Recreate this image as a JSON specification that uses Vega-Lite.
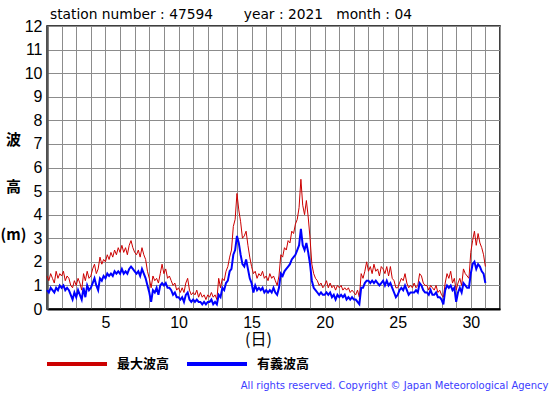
{
  "$schema": "https://vega.github.io/schema/vega-lite/v6.json",
  "width": 453,
  "height": 283,
  "autosize": "none",
  "padding": {"left": 47, "top": 26, "right": 55, "bottom": 86},
  "background": "white",
  "title": {
    "text": "station number : 47594\u00a0\u00a0\u00a0\u00a0\u00a0\u00a0\u00a0year : 2021\u00a0\u00a0\u00a0month : 04",
    "anchor": "start",
    "frame": "group",
    "dx": 3,
    "dy": 21,
    "offset": 6,
    "baseline": "alphabetic",
    "font": "DejaVu Sans",
    "fontSize": 13.8,
    "fontWeight": "normal",
    "color": "#000"
  },
  "data": {
    "values": [
      {"d": 1.0, "h": 1.4, "s": 0.8}, {"d": 1.125, "h": 1.2, "s": 0.7}, {"d": 1.25, "h": 1.5, "s": 0.9}, {"d": 1.375, "h": 1.3, "s": 0.8},
      {"d": 1.5, "h": 1.1, "s": 0.7}, {"d": 1.625, "h": 1.6, "s": 0.9}, {"d": 1.75, "h": 1.3, "s": 0.8}, {"d": 1.875, "h": 1.5, "s": 1.0},
      {"d": 2.0, "h": 1.4, "s": 0.9}, {"d": 2.125, "h": 1.6, "s": 1.0}, {"d": 2.25, "h": 1.2, "s": 0.8}, {"d": 2.375, "h": 1.4, "s": 0.9},
      {"d": 2.5, "h": 1.3, "s": 0.8}, {"d": 2.625, "h": 1.0, "s": 0.6}, {"d": 2.75, "h": 0.9, "s": 0.4}, {"d": 2.875, "h": 1.2, "s": 0.7},
      {"d": 3.0, "h": 1.0, "s": 0.5}, {"d": 3.125, "h": 1.3, "s": 0.8}, {"d": 3.25, "h": 1.1, "s": 0.6}, {"d": 3.375, "h": 0.8, "s": 0.4},
      {"d": 3.5, "h": 1.5, "s": 0.9}, {"d": 3.625, "h": 1.2, "s": 0.5}, {"d": 3.75, "h": 1.6, "s": 1.0}, {"d": 3.875, "h": 1.3, "s": 0.8},
      {"d": 4.0, "h": 1.4, "s": 0.9}, {"d": 4.125, "h": 1.7, "s": 1.1}, {"d": 4.25, "h": 1.9, "s": 1.3}, {"d": 4.375, "h": 1.5, "s": 1.0},
      {"d": 4.5, "h": 1.7, "s": 0.8}, {"d": 4.625, "h": 2.2, "s": 1.3}, {"d": 4.75, "h": 1.9, "s": 1.2}, {"d": 4.875, "h": 2.1, "s": 1.4},
      {"d": 5.0, "h": 2.0, "s": 1.3}, {"d": 5.125, "h": 2.3, "s": 1.5}, {"d": 5.25, "h": 2.1, "s": 1.4}, {"d": 5.375, "h": 2.4, "s": 1.5},
      {"d": 5.5, "h": 2.2, "s": 1.4}, {"d": 5.625, "h": 2.5, "s": 1.6}, {"d": 5.75, "h": 2.3, "s": 1.5}, {"d": 5.875, "h": 2.6, "s": 1.6},
      {"d": 6.0, "h": 2.4, "s": 1.5}, {"d": 6.125, "h": 2.7, "s": 1.7}, {"d": 6.25, "h": 2.4, "s": 1.5}, {"d": 6.375, "h": 2.6, "s": 1.6},
      {"d": 6.5, "h": 2.3, "s": 1.5}, {"d": 6.625, "h": 2.7, "s": 1.7}, {"d": 6.75, "h": 2.9, "s": 1.8}, {"d": 6.875, "h": 2.6, "s": 1.7},
      {"d": 7.0, "h": 2.4, "s": 1.6}, {"d": 7.125, "h": 2.3, "s": 1.5}, {"d": 7.25, "h": 2.5, "s": 1.6}, {"d": 7.375, "h": 2.2, "s": 1.4},
      {"d": 7.5, "h": 2.6, "s": 1.7}, {"d": 7.625, "h": 2.3, "s": 1.5}, {"d": 7.75, "h": 2.1, "s": 1.3}, {"d": 7.875, "h": 1.6, "s": 1.0},
      {"d": 8.0, "h": 1.3, "s": 0.7}, {"d": 8.125, "h": 0.9, "s": 0.3}, {"d": 8.25, "h": 1.4, "s": 0.8}, {"d": 8.375, "h": 1.2, "s": 0.7},
      {"d": 8.5, "h": 1.3, "s": 0.9}, {"d": 8.625, "h": 1.1, "s": 0.6}, {"d": 8.75, "h": 1.5, "s": 1.0}, {"d": 8.875, "h": 1.9, "s": 1.1},
      {"d": 9.0, "h": 1.5, "s": 1.0}, {"d": 9.125, "h": 1.7, "s": 1.1}, {"d": 9.25, "h": 1.3, "s": 0.9}, {"d": 9.375, "h": 1.4, "s": 0.9},
      {"d": 9.5, "h": 1.2, "s": 0.8}, {"d": 9.625, "h": 1.0, "s": 0.6}, {"d": 9.75, "h": 1.1, "s": 0.7}, {"d": 9.875, "h": 0.8, "s": 0.5},
      {"d": 10.0, "h": 0.9, "s": 0.5}, {"d": 10.125, "h": 0.7, "s": 0.4}, {"d": 10.25, "h": 0.9, "s": 0.5}, {"d": 10.375, "h": 0.7, "s": 0.3},
      {"d": 10.5, "h": 1.1, "s": 0.6}, {"d": 10.625, "h": 1.3, "s": 0.7}, {"d": 10.75, "h": 0.8, "s": 0.4}, {"d": 10.875, "h": 0.6, "s": 0.3},
      {"d": 11.0, "h": 0.7, "s": 0.4}, {"d": 11.125, "h": 0.6, "s": 0.3}, {"d": 11.25, "h": 0.8, "s": 0.4}, {"d": 11.375, "h": 0.5, "s": 0.3},
      {"d": 11.5, "h": 0.7, "s": 0.3}, {"d": 11.625, "h": 0.5, "s": 0.2}, {"d": 11.75, "h": 0.6, "s": 0.3}, {"d": 11.875, "h": 0.4, "s": 0.2},
      {"d": 12.0, "h": 0.6, "s": 0.3}, {"d": 12.125, "h": 0.5, "s": 0.3}, {"d": 12.25, "h": 0.7, "s": 0.4}, {"d": 12.375, "h": 0.5, "s": 0.2},
      {"d": 12.5, "h": 0.6, "s": 0.3}, {"d": 12.625, "h": 0.4, "s": 0.2}, {"d": 12.75, "h": 1.3, "s": 0.6}, {"d": 12.875, "h": 0.9, "s": 0.5},
      {"d": 13.0, "h": 1.3, "s": 0.9}, {"d": 13.125, "h": 1.2, "s": 0.8}, {"d": 13.25, "h": 1.6, "s": 1.1}, {"d": 13.375, "h": 1.8, "s": 1.2},
      {"d": 13.5, "h": 2.2, "s": 1.6}, {"d": 13.625, "h": 2.5, "s": 1.7}, {"d": 13.75, "h": 3.5, "s": 2.3}, {"d": 13.875, "h": 3.8, "s": 2.5},
      {"d": 14.0, "h": 4.9, "s": 3.1}, {"d": 14.125, "h": 4.2, "s": 2.8}, {"d": 14.25, "h": 3.7, "s": 2.3}, {"d": 14.375, "h": 3.0, "s": 1.9},
      {"d": 14.5, "h": 3.1, "s": 1.8}, {"d": 14.625, "h": 3.3, "s": 2.1}, {"d": 14.75, "h": 2.7, "s": 1.7}, {"d": 14.875, "h": 2.2, "s": 1.3},
      {"d": 15.0, "h": 1.8, "s": 1.1}, {"d": 15.125, "h": 1.5, "s": 0.7}, {"d": 15.25, "h": 1.6, "s": 1.0}, {"d": 15.375, "h": 1.3, "s": 0.8},
      {"d": 15.5, "h": 1.5, "s": 0.9}, {"d": 15.625, "h": 1.4, "s": 0.8}, {"d": 15.75, "h": 1.6, "s": 0.9}, {"d": 15.875, "h": 1.3, "s": 0.7},
      {"d": 16.0, "h": 1.4, "s": 0.8}, {"d": 16.125, "h": 1.2, "s": 0.7}, {"d": 16.25, "h": 1.5, "s": 0.8}, {"d": 16.375, "h": 1.3, "s": 0.7},
      {"d": 16.5, "h": 1.4, "s": 0.9}, {"d": 16.625, "h": 1.2, "s": 0.7}, {"d": 16.75, "h": 1.0, "s": 0.6}, {"d": 16.875, "h": 1.4, "s": 0.9},
      {"d": 17.0, "h": 2.3, "s": 1.5}, {"d": 17.125, "h": 2.2, "s": 1.4}, {"d": 17.25, "h": 2.6, "s": 1.6}, {"d": 17.375, "h": 2.5, "s": 1.7},
      {"d": 17.5, "h": 2.9, "s": 1.8}, {"d": 17.625, "h": 2.8, "s": 1.9}, {"d": 17.75, "h": 3.3, "s": 2.1}, {"d": 17.875, "h": 3.2, "s": 2.2},
      {"d": 18.0, "h": 3.6, "s": 2.3}, {"d": 18.125, "h": 3.8, "s": 2.5}, {"d": 18.25, "h": 4.3, "s": 2.7}, {"d": 18.375, "h": 5.5, "s": 3.4},
      {"d": 18.5, "h": 4.4, "s": 2.7}, {"d": 18.625, "h": 4.0, "s": 2.5}, {"d": 18.75, "h": 4.6, "s": 2.8}, {"d": 18.875, "h": 3.9, "s": 2.4},
      {"d": 19.0, "h": 3.0, "s": 1.9}, {"d": 19.125, "h": 1.9, "s": 1.2}, {"d": 19.25, "h": 1.5, "s": 0.9}, {"d": 19.375, "h": 1.3, "s": 0.8},
      {"d": 19.5, "h": 1.2, "s": 0.7}, {"d": 19.625, "h": 1.0, "s": 0.6}, {"d": 19.75, "h": 1.1, "s": 0.7}, {"d": 19.875, "h": 0.9, "s": 0.6},
      {"d": 20.0, "h": 1.0, "s": 0.6}, {"d": 20.125, "h": 1.2, "s": 0.7}, {"d": 20.25, "h": 0.9, "s": 0.6}, {"d": 20.375, "h": 1.1, "s": 0.7},
      {"d": 20.5, "h": 0.9, "s": 0.5}, {"d": 20.625, "h": 1.0, "s": 0.6}, {"d": 20.75, "h": 0.8, "s": 0.4}, {"d": 20.875, "h": 1.0, "s": 0.6},
      {"d": 21.0, "h": 0.9, "s": 0.5}, {"d": 21.125, "h": 1.0, "s": 0.6}, {"d": 21.25, "h": 0.8, "s": 0.5}, {"d": 21.375, "h": 0.9, "s": 0.6},
      {"d": 21.5, "h": 0.8, "s": 0.4}, {"d": 21.625, "h": 0.9, "s": 0.5}, {"d": 21.75, "h": 0.7, "s": 0.4}, {"d": 21.875, "h": 0.8, "s": 0.5},
      {"d": 22.0, "h": 0.7, "s": 0.4}, {"d": 22.125, "h": 0.6, "s": 0.4}, {"d": 22.25, "h": 0.8, "s": 0.3}, {"d": 22.375, "h": 0.5, "s": 0.2},
      {"d": 22.5, "h": 1.5, "s": 0.9}, {"d": 22.625, "h": 1.3, "s": 0.9}, {"d": 22.75, "h": 1.6, "s": 1.1}, {"d": 22.875, "h": 2.0, "s": 1.2},
      {"d": 23.0, "h": 1.6, "s": 1.2}, {"d": 23.125, "h": 1.8, "s": 1.1}, {"d": 23.25, "h": 1.5, "s": 1.2}, {"d": 23.375, "h": 1.9, "s": 1.1},
      {"d": 23.5, "h": 1.6, "s": 1.2}, {"d": 23.625, "h": 1.7, "s": 1.1}, {"d": 23.75, "h": 1.4, "s": 1.0}, {"d": 23.875, "h": 1.8, "s": 1.1},
      {"d": 24.0, "h": 1.7, "s": 1.2}, {"d": 24.125, "h": 1.5, "s": 1.0}, {"d": 24.25, "h": 1.8, "s": 1.2}, {"d": 24.375, "h": 1.4, "s": 1.0},
      {"d": 24.5, "h": 1.8, "s": 1.1}, {"d": 24.625, "h": 1.3, "s": 0.9}, {"d": 24.75, "h": 1.2, "s": 0.7}, {"d": 24.875, "h": 0.9, "s": 0.5},
      {"d": 25.0, "h": 0.9, "s": 0.6}, {"d": 25.125, "h": 1.1, "s": 0.8}, {"d": 25.25, "h": 1.3, "s": 0.9}, {"d": 25.375, "h": 1.2, "s": 0.8},
      {"d": 25.5, "h": 1.5, "s": 1.0}, {"d": 25.625, "h": 1.1, "s": 0.8}, {"d": 25.75, "h": 0.9, "s": 0.6}, {"d": 25.875, "h": 1.0, "s": 0.7},
      {"d": 26.0, "h": 0.9, "s": 0.7}, {"d": 26.125, "h": 1.1, "s": 0.7}, {"d": 26.25, "h": 0.9, "s": 0.8}, {"d": 26.375, "h": 1.0, "s": 0.7},
      {"d": 26.5, "h": 1.5, "s": 1.1}, {"d": 26.625, "h": 1.4, "s": 1.0}, {"d": 26.75, "h": 1.1, "s": 0.8}, {"d": 26.875, "h": 1.0, "s": 0.7},
      {"d": 27.0, "h": 1.0, "s": 0.7}, {"d": 27.125, "h": 0.8, "s": 0.6}, {"d": 27.25, "h": 1.0, "s": 0.8}, {"d": 27.375, "h": 0.9, "s": 0.6},
      {"d": 27.5, "h": 0.8, "s": 0.6}, {"d": 27.625, "h": 1.0, "s": 0.7}, {"d": 27.75, "h": 0.7, "s": 0.5}, {"d": 27.875, "h": 0.8, "s": 0.5},
      {"d": 28.0, "h": 0.6, "s": 0.4}, {"d": 28.125, "h": 0.5, "s": 0.2}, {"d": 28.25, "h": 1.1, "s": 0.8}, {"d": 28.375, "h": 1.5, "s": 1.0},
      {"d": 28.5, "h": 1.3, "s": 0.9}, {"d": 28.625, "h": 1.6, "s": 1.0}, {"d": 28.75, "h": 1.1, "s": 0.8}, {"d": 28.875, "h": 1.3, "s": 0.9},
      {"d": 29.0, "h": 0.8, "s": 0.3}, {"d": 29.125, "h": 1.1, "s": 0.7}, {"d": 29.25, "h": 1.3, "s": 0.9}, {"d": 29.375, "h": 1.0, "s": 0.7},
      {"d": 29.5, "h": 1.7, "s": 1.1}, {"d": 29.625, "h": 1.5, "s": 1.0}, {"d": 29.75, "h": 1.4, "s": 0.9}, {"d": 29.875, "h": 1.3, "s": 0.9},
      {"d": 30.0, "h": 2.4, "s": 1.5}, {"d": 30.125, "h": 2.9, "s": 1.9}, {"d": 30.25, "h": 3.3, "s": 2.0}, {"d": 30.375, "h": 2.7, "s": 1.7},
      {"d": 30.5, "h": 3.2, "s": 1.9}, {"d": 30.625, "h": 2.8, "s": 1.8}, {"d": 30.75, "h": 2.6, "s": 1.6}, {"d": 30.875, "h": 2.3, "s": 1.5},
      {"d": 31.0, "h": 1.8, "s": 1.1}
    ]
  },
  "layer": [
    {
      "mark": {"type": "line", "strokeWidth": 1},
      "encoding": {
        "x": {
          "field": "d",
          "type": "quantitative",
          "scale": {"domain": [1, 32], "nice": false, "zero": false},
          "axis": {
            "values": [1,2,3,4,5,6,7,8,9,10,11,12,13,14,15,16,17,18,19,20,21,22,23,24,25,26,27,28,29,30,31,32],
            "labelExpr": "datum.value % 5 == 0 ? datum.label : ''",
            "labelOverlap": false,
            "labelFlush": false,
            "grid": true,
            "gridColor": "#8c8c8c",
            "gridWidth": 1,
            "ticks": false,
            "domainColor": "#000",
            "domainWidth": 2,
            "labelFont": "Liberation Sans",
            "labelFontSize": 16,
            "labelColor": "#000",
            "labelPadding": 5,
            "title": "(日)",
            "titleFont": "Noto Sans CJK JP",
            "titleFontSize": 16,
            "titleFontWeight": "normal",
            "titleColor": "#000",
            "titleX": 211,
            "titleY": 30,
            "titleAlign": "center",
            "titleBaseline": "middle"
          }
        },
        "y": {
          "field": "h",
          "type": "quantitative",
          "scale": {"domain": [0, 12], "nice": false},
          "axis": {"values": [0,1,2,3,4,5,6,7,8,9,10,11,12]},
          "title": ["波", "高", "(m)"]
        },
        "color": {
          "datum": "最大波高",
          "type": "nominal",
          "scale": {"domain": ["最大波高", "有義波高"], "range": ["#cc0000", "#0000ff"]},
          "legend": {
            "orient": "none",
            "legendX": -2,
            "legendY": 306,
            "direction": "horizontal",
            "title": null,
            "padding": 0,
            "symbolType": "stroke",
            "symbolSize": 3600,
            "symbolStrokeWidth": 4,
            "labelFont": "Noto Sans CJK JP",
            "labelFontSize": 13,
            "labelFontWeight": "bold",
            "labelColor": "#000",
            "labelOffset": 8,
            "columnPadding": 9
          }
        }
      }
    },
    {
      "mark": {"type": "line", "strokeWidth": 2},
      "encoding": {
        "x": {
          "field": "d",
          "type": "quantitative",
          "axis": {
            "orient": "bottom",
            "domain": false,
            "ticks": false,
            "labels": false,
            "grid": false,
            "title": "All rights reserved. Copyright © Japan Meteorological Agency",
            "titleFont": "DejaVu Sans",
            "titleFontSize": 10,
            "titleFontWeight": "normal",
            "titleColor": "#3c3cff",
            "titleX": 501,
            "titleY": 79,
            "titleAlign": "right",
            "titleBaseline": "alphabetic"
          }
        },
        "y": {
          "field": "s",
          "type": "quantitative",
          "axis": {"values": [0,1,2,3,4,5,6,7,8,9,10,11,12]},
          "title": ["波", "高", "(m)"]
        },
        "color": {"datum": "有義波高", "type": "nominal"}
      }
    }
  ],
  "resolve": {"axis": {"x": "independent"}},
  "config": {
    "view": {"stroke": "#000", "strokeWidth": 1.5},
    "axisY": {
      "grid": true,
      "gridColor": "#8c8c8c",
      "gridWidth": 1,
      "ticks": false,
      "domainColor": "#555",
      "domainWidth": 2.5,
      "labelFont": "Liberation Sans",
      "labelFontSize": 16,
      "labelColor": "#000",
      "labelPadding": 5,
      "labelOverlap": false,
      "labelFlush": false,
      "titleAngle": 0,
      "titleFont": "Noto Sans CJK JP",
      "titleFontSize": 15,
      "titleFontWeight": "bold",
      "titleColor": "#000",
      "titleLineHeight": 47.5,
      "titleX": -34,
      "titleY": 106,
      "titleAlign": "center",
      "titleBaseline": "top"
    }
  }
}
